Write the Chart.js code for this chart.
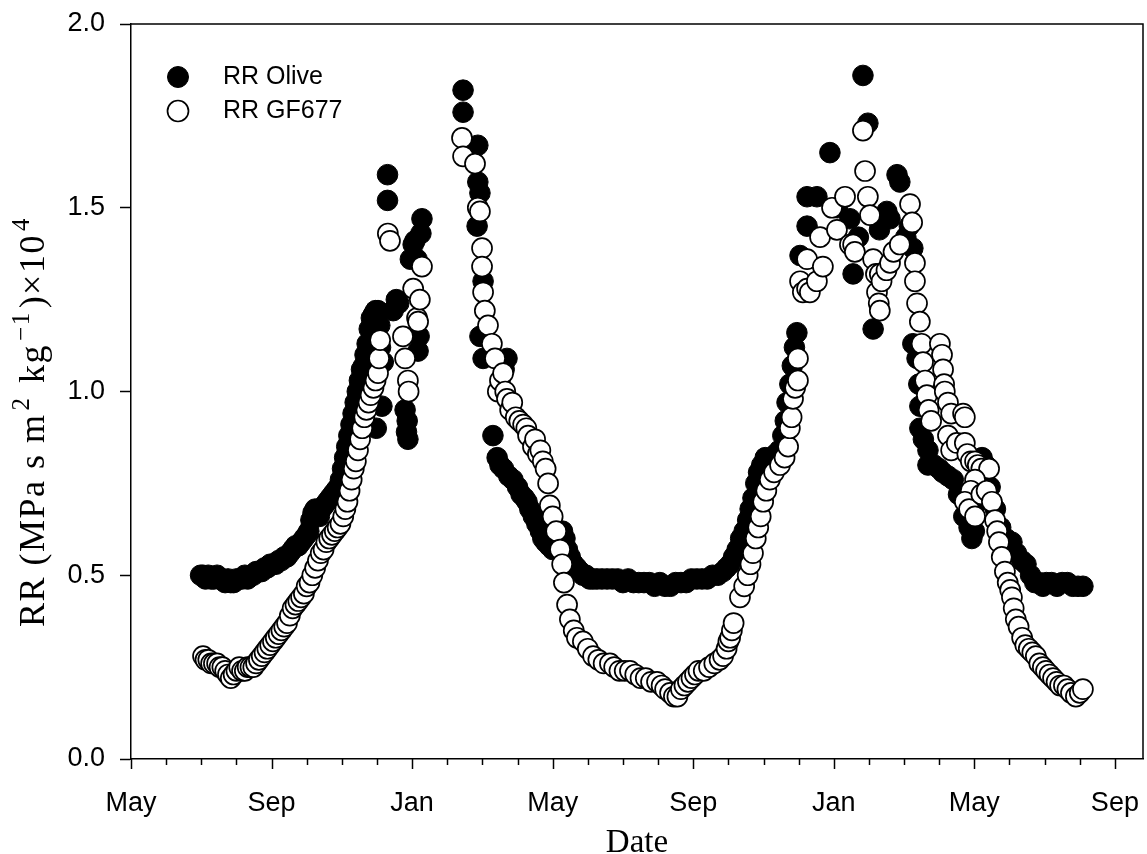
<!DOCTYPE html>
<html>
<head>
<meta charset="utf-8">
<title>Root resistance</title>
<script src="https://cdn.jsdelivr.net/npm/chart.js@4.4.1/dist/chart.umd.min.js"></script>
<style>
  html, body { margin: 0; padding: 0; background: #fff; }
  canvas { display: block; }
</style>
</head>
<body>
<canvas id="rrChart" width="1147" height="854"></canvas>
<script>
// x values are months counted from 1 May of the first season
const monthNames = ['May', 'Jun', 'Jul', 'Aug', 'Sep', 'Oct', 'Nov', 'Dec', 'Jan', 'Feb', 'Mar', 'Apr'];
const xMax = 28.8;

// RR Olive  [month, RR x 10^4]
const oliveSeason1 = [
  [1.98,0.50],[2.05,0.50],[2.12,0.49],[2.2,0.50],[2.28,0.49],[2.36,0.49],[2.45,0.50],[2.52,0.49],[2.6,0.49],
  [2.68,0.48],[2.76,0.49],[2.84,0.48],[2.92,0.48],[3.0,0.49],[3.08,0.49],[3.16,0.49],[3.24,0.50],[3.32,0.49],
  [3.4,0.50],[3.48,0.50],[3.56,0.51],[3.64,0.51],[3.72,0.51],[3.8,0.52],[3.88,0.52],[3.96,0.53],[4.04,0.53],
  [4.12,0.53],[4.2,0.54],[4.28,0.54],[4.36,0.55],[4.44,0.55],[4.52,0.56],[4.6,0.57],[4.68,0.58],[4.76,0.58],
  [4.84,0.59],[4.92,0.60],[5.0,0.61],[5.06,0.62],[5.12,0.65],[5.18,0.67],[5.24,0.68],[5.3,0.67],[5.36,0.66],
  [5.42,0.68],[5.5,0.69],[5.58,0.70],[5.66,0.71],[5.74,0.72],[5.82,0.73],[5.9,0.74],[5.96,0.76],[6.02,0.79],
  [6.08,0.82],[6.14,0.85],[6.2,0.88],[6.26,0.91],[6.32,0.94],[6.38,0.97],[6.44,1.00],[6.5,1.03],[6.56,1.06],
  [6.62,1.07],[6.66,1.10],[6.72,1.13],[6.78,1.17],[6.84,1.20],[6.9,1.21],[6.96,1.22],[7.03,1.22],[7.08,1.18],
  [7.1,1.12],[6.98,0.90],[7.14,0.96],[7.18,1.08],[7.3,1.52],[7.3,1.59],[7.46,1.22],[7.55,1.25],[7.62,1.24],
  [7.8,0.95],[7.84,0.89],[7.88,0.87],[7.86,0.92],[7.95,1.36],[8.03,1.40],[8.08,1.41],[8.14,1.36],[8.17,1.11],
  [8.2,1.15],[8.25,1.43],[8.28,1.47]
];
const oliveSeason2 = [
  [9.45,1.82],[9.45,1.76],[9.87,1.67],[9.87,1.57],[9.93,1.54],[9.85,1.45],[10.02,1.30],[9.93,1.15],[10.02,1.09],
  [10.7,1.09],[10.62,1.06],[10.3,0.88],[10.42,0.82],[10.5,0.80],[10.6,0.79],[10.75,0.77],[10.87,0.76],[11.0,0.74],
  [11.1,0.72],[11.2,0.71],[11.27,0.70],[11.35,0.68],[11.45,0.66],[11.55,0.64],[11.65,0.62],[11.72,0.60],[11.8,0.59],
  [11.9,0.58],[12.0,0.57],[12.1,0.58],[12.2,0.60],[12.28,0.62],[12.35,0.60],[12.42,0.57],[12.5,0.55],[12.6,0.53],
  [12.69,0.52],[12.78,0.51],[12.86,0.50],[12.95,0.50],[13.05,0.49],[13.15,0.49],[13.26,0.49],[13.4,0.49],[13.55,0.49],
  [13.7,0.49],[13.85,0.49],[14.0,0.48],[14.15,0.49],[14.3,0.48],[14.45,0.48],[14.6,0.48],[14.75,0.48],[14.9,0.47],
  [15.05,0.48],[15.2,0.47],[15.35,0.47],[15.5,0.48],[15.65,0.48],[15.8,0.48],[15.95,0.49],[16.1,0.49],[16.25,0.49],
  [16.4,0.49],[16.55,0.50],[16.7,0.50],[16.85,0.51],[16.95,0.52],[17.05,0.53],[17.15,0.55],[17.25,0.57],[17.35,0.60],
  [17.45,0.62],[17.55,0.65],[17.62,0.68],[17.7,0.71],[17.78,0.75],[17.86,0.78],[17.95,0.80],[18.05,0.82],[18.15,0.81],
  [18.25,0.82],[18.35,0.83],[18.45,0.84],[18.55,0.88],[18.62,0.92],[18.67,0.97],[18.75,1.02],[18.82,1.07],[18.88,1.12],
  [18.95,1.16],[19.04,1.37],[19.24,1.45],[19.24,1.53],[19.52,1.53],[19.89,1.65],[20.1,1.50],[20.46,1.47],[20.55,1.32],
  [20.7,1.42],[20.83,1.86],[20.97,1.73],[21.12,1.17],[21.3,1.44],[21.51,1.49],[21.6,1.47],[21.8,1.59],[21.88,1.57],
  [22.05,1.42],[22.15,1.45],[22.25,1.39]
];
const oliveSeason3 = [
  [22.25,1.13],[22.37,1.09],[22.42,1.02],[22.45,0.96],[22.45,0.90],[22.55,0.87],[22.68,0.84],[22.68,0.80],[22.85,0.80],
  [23.0,0.79],[23.1,0.78],[23.25,0.77],[23.4,0.76],[23.55,0.72],[23.7,0.66],[23.85,0.63],[23.93,0.60],[24.0,0.62],
  [24.12,0.70],[24.22,0.82],[24.32,0.80],[24.45,0.74],[24.6,0.68],[24.75,0.63],[24.9,0.60],[25.07,0.59],[25.2,0.56],
  [25.35,0.54],[25.47,0.53],[25.6,0.50],[25.72,0.48],[25.84,0.48],[25.95,0.47],[26.05,0.48],[26.2,0.48],[26.35,0.47],
  [26.5,0.48],[26.65,0.48],[26.8,0.47],[26.95,0.47],[27.09,0.47]
];

// RR GF677  [month, RR x 10^4]
const gfSeason1 = [
  [2.05,0.28],[2.12,0.27],[2.2,0.27],[2.28,0.26],[2.36,0.26],[2.45,0.26],[2.52,0.25],[2.6,0.25],[2.68,0.24],
  [2.76,0.23],[2.84,0.22],[2.92,0.23],[3.0,0.24],[3.08,0.25],[3.16,0.24],[3.24,0.24],[3.32,0.25],[3.4,0.25],
  [3.48,0.25],[3.56,0.26],[3.64,0.27],[3.72,0.28],[3.8,0.29],[3.88,0.30],[3.96,0.31],[4.04,0.32],[4.12,0.33],
  [4.2,0.34],[4.28,0.35],[4.36,0.36],[4.44,0.37],[4.52,0.39],[4.6,0.41],[4.68,0.42],[4.76,0.43],[4.84,0.44],
  [4.92,0.45],[5.0,0.47],[5.08,0.48],[5.16,0.50],[5.24,0.52],[5.32,0.54],[5.4,0.56],[5.48,0.57],[5.56,0.59],
  [5.64,0.60],[5.72,0.61],[5.8,0.62],[5.88,0.63],[5.96,0.64],[6.04,0.66],[6.1,0.68],[6.16,0.70],[6.22,0.73],
  [6.28,0.76],[6.34,0.79],[6.4,0.81],[6.46,0.84],[6.52,0.87],[6.58,0.90],[6.64,0.93],[6.7,0.95],[6.76,0.97],
  [6.82,0.99],[6.9,1.01],[6.96,1.03],[7.03,1.05],[7.06,1.09],[7.09,1.14],[7.31,1.43],[7.37,1.41],[7.74,1.15],
  [7.8,1.09],[7.88,1.03],[7.9,1.00],[8.03,1.28],[8.14,1.20],[8.17,1.19],[8.22,1.25],[8.28,1.34]
];
const gfSeason2 = [
  [9.42,1.69],[9.45,1.64],[9.79,1.62],[9.87,1.50],[9.93,1.49],[9.99,1.39],[9.99,1.34],[10.02,1.27],[10.07,1.22],
  [10.16,1.18],[10.27,1.13],[10.36,1.09],[10.44,1.00],[10.5,1.03],[10.59,1.05],[10.65,1.00],[10.7,0.98],[10.79,0.95],
  [10.85,0.97],[10.95,0.93],[11.05,0.92],[11.16,0.91],[11.25,0.90],[11.3,0.88],[11.44,0.85],[11.5,0.87],[11.58,0.83],
  [11.65,0.84],[11.72,0.81],[11.8,0.79],[11.87,0.75],[11.92,0.69],[12.0,0.66],[12.1,0.62],[12.21,0.57],[12.27,0.53],
  [12.32,0.48],[12.41,0.42],[12.49,0.38],[12.6,0.35],[12.69,0.33],[12.86,0.32],[13.0,0.30],[13.15,0.28],[13.3,0.27],
  [13.45,0.26],[13.63,0.26],[13.75,0.25],[13.9,0.24],[14.05,0.24],[14.2,0.24],[14.35,0.23],[14.5,0.22],[14.65,0.22],
  [14.8,0.21],[14.97,0.21],[15.1,0.20],[15.2,0.19],[15.34,0.18],[15.45,0.17],[15.55,0.17],[15.65,0.19],[15.75,0.20],
  [15.85,0.21],[15.95,0.22],[16.05,0.23],[16.15,0.24],[16.3,0.24],[16.45,0.25],[16.6,0.26],[16.75,0.27],[16.85,0.28],
  [16.95,0.30],[17.0,0.32],[17.05,0.33],[17.1,0.35],[17.15,0.37],[17.33,0.44],[17.45,0.47],[17.55,0.50],[17.63,0.53],
  [17.7,0.56],[17.78,0.60],[17.85,0.63],[17.92,0.66],[17.99,0.70],[18.08,0.73],[18.18,0.76],[18.3,0.78],[18.47,0.80],
  [18.6,0.82],[18.7,0.85],[18.75,0.90],[18.8,0.93],[18.84,0.98],[18.9,1.01],[18.98,1.03],[18.98,1.09],[19.04,1.30],
  [19.12,1.27],[19.24,1.36],[19.24,1.28],[19.32,1.27],[19.52,1.30],[19.61,1.42],[19.69,1.34],[19.95,1.50],[20.09,1.44],
  [20.32,1.53],[20.46,1.40],[20.55,1.40],[20.6,1.38],[20.83,1.71],[20.89,1.60],[20.97,1.53],[21.03,1.48],[21.12,1.36],
  [21.2,1.32],[21.23,1.27],[21.28,1.24],[21.31,1.22],[21.31,1.32],[21.36,1.30],[21.5,1.33],[21.6,1.35],[21.7,1.38],
  [21.88,1.40],[22.17,1.51],[22.23,1.46],[22.31,1.35],[22.31,1.30]
];
const gfSeason3 = [
  [22.37,1.24],[22.45,1.19],[22.5,1.13],[22.54,1.08],[22.6,1.03],[22.65,0.99],[22.7,0.95],[22.77,0.92],[23.02,1.13],
  [23.08,1.10],[23.11,1.06],[23.14,1.02],[23.16,1.00],[23.25,0.97],[23.34,0.94],[23.25,0.88],[23.34,0.84],[23.5,0.86],
  [23.68,0.94],[23.73,0.93],[23.73,0.86],[23.8,0.83],[23.9,0.81],[24.02,0.81],[24.1,0.80],[24.2,0.79],[24.42,0.79],
  [24.02,0.76],[23.9,0.73],[23.73,0.70],[23.85,0.68],[24.02,0.66],[24.2,0.72],[24.35,0.73],[24.5,0.70],[24.59,0.65],
  [24.65,0.62],[24.7,0.59],[24.78,0.55],[24.87,0.51],[24.95,0.48],[25.02,0.46],[25.07,0.44],[25.12,0.41],[25.18,0.38],
  [25.26,0.36],[25.36,0.33],[25.45,0.31],[25.55,0.30],[25.65,0.29],[25.75,0.28],[25.85,0.26],[25.95,0.25],[26.04,0.24],
  [26.14,0.23],[26.24,0.22],[26.34,0.21],[26.44,0.20],[26.55,0.20],[26.65,0.19],[26.75,0.18],[26.89,0.17],[27.0,0.18],
  [27.09,0.19]
];

const sansFont = "'Liberation Sans', Arial, sans-serif";
const serifFont = "'Liberation Serif', 'Times New Roman', serif";

// y title pieces: [text, superscript?]
const yTitleParts = [['RR (MPa s m', false], ['2', true], [' kg', false], ['\u22121', true], [')\u00d710', false], ['4', true]];

const toPoints = (...parts) => [].concat(...parts).map(([x, y]) => ({ x, y }));

// frame, minor month ticks, legend and the rotated y title
const decorations = {
  id: 'decorations',
  afterDraw(chart) {
    const { ctx, chartArea: a, scales: { x } } = chart;
    ctx.save();
    ctx.strokeStyle = '#000';
    ctx.lineWidth = 1.5;

    ctx.beginPath();
    ctx.moveTo(a.left, a.top);
    ctx.lineTo(a.right, a.top);
    ctx.lineTo(a.right, a.bottom);
    ctx.stroke();

    x.ticks.forEach(t => {
      const px = Math.round(x.getPixelForValue(t.value)) + 0.5;
      const len = t.value % 4 === 0 ? 10 : 6;
      ctx.beginPath();
      ctx.moveTo(px, a.bottom);
      ctx.lineTo(px, a.bottom + len);
      ctx.stroke();
    });

    // legend in the upper left corner of the plot
    ctx.font = '25px ' + sansFont;
    ctx.textBaseline = 'middle';
    ctx.textAlign = 'left';
    chart.data.datasets.forEach((ds, i) => {
      const cx = a.left + 47;
      const cy = a.top + 53 + i * 34;
      ctx.beginPath();
      ctx.arc(cx, cy, 10.5, 0, Math.PI * 2);
      ctx.fillStyle = ds.backgroundColor;
      ctx.fill();
      ctx.lineWidth = ds.borderWidth;
      ctx.strokeStyle = ds.borderColor;
      ctx.stroke();
      ctx.fillStyle = '#000';
      ctx.fillText(ds.label, a.left + 92, cy);
    });

    ctx.translate(44, 627);
    ctx.rotate(-Math.PI / 2);
    ctx.textBaseline = 'alphabetic';
    ctx.letterSpacing = '1.5px';
    let pos = 0;
    yTitleParts.forEach(([text, sup]) => {
      ctx.font = (sup ? '25px ' : '36px ') + serifFont;
      if (sup) pos += 3;
      ctx.fillText(text, pos, sup ? -15 : 0);
      pos += ctx.measureText(text).width + (sup ? 3 : 0);
    });
    ctx.restore();
  }
};

new Chart(document.getElementById('rrChart'), {
  type: 'scatter',
  data: {
    datasets: [{
      label: 'RR Olive',
      data: toPoints(oliveSeason1, oliveSeason2, oliveSeason3),
      backgroundColor: '#000',
      borderColor: '#000',
      borderWidth: 1,
      pointRadius: 10.3,
      order: 1
    }, {
      label: 'RR GF677',
      data: toPoints(gfSeason1, gfSeason2, gfSeason3),
      backgroundColor: '#fff',
      borderColor: '#000',
      borderWidth: 1.7,
      pointRadius: 10,
      order: 0
    }]
  },
  options: {
    responsive: false,
    animation: false,
    events: [],
    layout: { autoPadding: false, padding: { top: 24, right: 4, left: 0, bottom: 0 } },
    plugins: {
      legend: { display: false },
      tooltip: { enabled: false }
    },
    scales: {
      x: {
        type: 'linear',
        min: 0,
        max: xMax,
        afterFit: s => { s.height = 95; s.paddingLeft = 0; s.paddingRight = 0; },
        grid: { display: false },
        border: { color: '#000', width: 1.5 },
        ticks: {
          stepSize: 1,
          autoSkip: false,
          includeBounds: false,
          maxRotation: 0,
          padding: 20,
          color: '#000',
          font: { family: sansFont, size: 27 },
          callback: v => (Number.isInteger(v) && v % 4 === 0) ? monthNames[v % 12] : ''
        },
        title: {
          display: true,
          text: 'Date',
          color: '#000',
          font: { family: serifFont, size: 33, lineHeight: 0.66 },
          padding: { top: 0, bottom: 0 }
        }
      },
      y: {
        min: 0,
        max: 2,
        afterFit: s => { s.width = 131; s.paddingTop = 0; s.paddingBottom = 0; },
        grid: { drawOnChartArea: false, tickLength: 11, tickColor: '#000', tickWidth: 1.5 },
        border: { color: '#000', width: 1.5 },
        ticks: {
          stepSize: 0.5,
          padding: 15,
          color: '#000',
          font: { family: sansFont, size: 27 },
          callback: v => v.toFixed(1)
        }
      }
    }
  },
  plugins: [decorations]
});
</script>
</body>
</html>
